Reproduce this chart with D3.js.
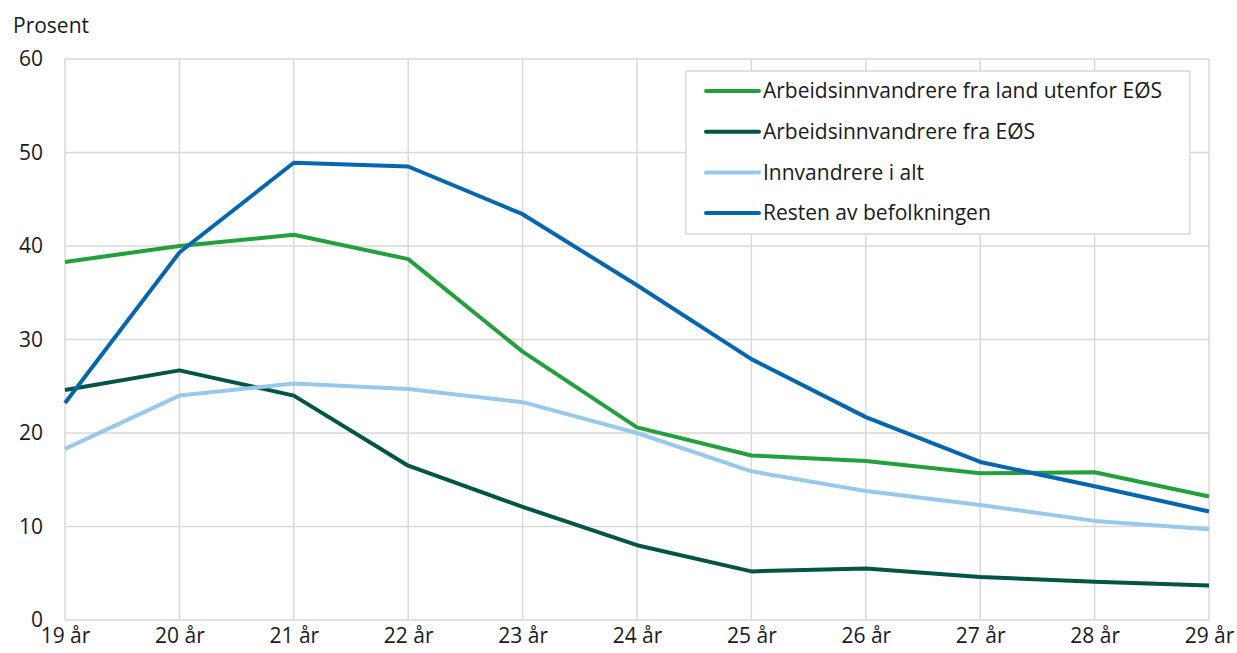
<!DOCTYPE html>
<html>
<head>
<meta charset="utf-8">
<script src="https://cdn.jsdelivr.net/npm/d3@7"></script>
<style>
  body { margin: 0; background: #fff; }
  svg text { font-family: "Open Sans", sans-serif; fill: #1a1a1a; }
</style>
</head>
<body>
<svg id="chart" width="1237" height="653"></svg>
<script>
// age categories along the x axis
let ages = ["19 år", "20 år", "21 år", "22 år", "23 år", "24 år", "25 år", "26 år", "27 år", "28 år", "29 år"];

// series values (prosent)
let utenforEOS = [38.3, 40.0, 41.2, 38.6, 28.7, 20.6, 17.6, 17.0, 15.7, 15.8, 13.2];
let fraEOS = [24.6, 26.7, 24.0, 16.5, 12.1, 8.0, 5.2, 5.5, 4.6, 4.1, 3.7];
let innvandrereIAlt = [18.3, 24.0, 25.3, 24.7, 23.3, 20.0, 15.9, 13.8, 12.3, 10.6, 9.7];
let restenAvBefolkningen = [23.2, 39.3, 48.9, 48.5, 43.4, 35.8, 27.9, 21.7, 16.9, 14.3, 11.6];

let yTicks = [0, 10, 20, 30, 40, 50, 60];

let seriesNames = ["Arbeidsinnvandrere fra land utenfor EØS", "Arbeidsinnvandrere fra EØS",
                   "Innvandrere i alt", "Resten av befolkningen"];
let seriesColors = ["#23a03c", "#005544", "#97c9ee", "#0566b0"];

let series = [
    {name: seriesNames[0], color: seriesColors[0], values: utenforEOS},
    {name: seriesNames[1], color: seriesColors[1], values: fraEOS},
    {name: seriesNames[2], color: seriesColors[2], values: innvandrereIAlt},
    {name: seriesNames[3], color: seriesColors[3], values: restenAvBefolkningen}
];

const svg = d3.select('#chart');
const plotLeft = 65, plotRight = 1209, plotTop = 59, plotBottom = 620;
const fontSize = '21px';

let x = d3.scalePoint().domain(ages).range([plotLeft, plotRight]);
let y = d3.scaleLinear().domain([0, 60]).range([plotBottom, plotTop]);

// grid
let grid = svg.append('g');
grid.selectAll('line.h')
    .data(yTicks)
    .join('line')
    .attr('class', 'h')
    .attr('x1', plotLeft).attr('x2', plotRight)
    .attr('y1', d => y(d)).attr('y2', d => y(d))
    .attr('stroke', '#d9d9d9').attr('stroke-width', 1.5);
grid.selectAll('line.v')
    .data(ages)
    .join('line')
    .attr('class', 'v')
    .attr('x1', d => x(d)).attr('x2', d => x(d))
    .attr('y1', plotTop).attr('y2', plotBottom)
    .attr('stroke', '#d9d9d9').attr('stroke-width', 1.5);

// y axis labels
let yAxis = svg.append('g')
    .attr('transform', `translate(${plotLeft},0)`)
    .call(d3.axisLeft(y).tickValues(yTicks).tickSize(0).tickPadding(22));
yAxis.select('.domain').remove();
yAxis.selectAll('text').style('font-size', fontSize).style('font-family', '"Open Sans", sans-serif').attr('fill', '#1a1a1a');

// x axis labels
let xAxis = svg.append('g')
    .attr('transform', `translate(0,${plotBottom})`)
    .call(d3.axisBottom(x).tickSize(0).tickPadding(8));
xAxis.select('.domain').remove();
xAxis.selectAll('text').style('font-size', fontSize).style('font-family', '"Open Sans", sans-serif').attr('fill', '#1a1a1a');

svg.append('text')
    .attr('x', 13).attr('y', 33)
    .style('font-size', fontSize)
    .text('Prosent');

// lines
let line = d3.line()
    .x((d, i) => x(ages[i]))
    .y(d => y(d));

svg.append('g').selectAll('path')
    .data(series)
    .join('path')
    .attr('d', d => line(d.values))
    .attr('fill', 'none')
    .attr('stroke', d => d.color)
    .attr('stroke-width', 4)
    .attr('stroke-linejoin', 'round');

// legend
let legend = svg.append('g');
legend.append('rect')
    .attr('x', 686).attr('y', 71)
    .attr('width', 504).attr('height', 163)
    .attr('fill', '#fff')
    .attr('stroke', '#d9d9d9').attr('stroke-width', 1.5);

let items = legend.selectAll('g.item')
    .data(series)
    .join('g')
    .attr('class', 'item')
    .attr('transform', (d, i) => `translate(0,${91 + i * 40.7})`);
items.append('line')
    .attr('x1', 706).attr('x2', 759)
    .attr('y1', 0).attr('y2', 0)
    .attr('stroke', d => d.color)
    .attr('stroke-width', 4)
    .attr('stroke-linecap', 'round');
items.append('text')
    .attr('x', 763).attr('y', 0)
    .attr('dy', '0.35em')
    .style('font-size', fontSize)
    .text(d => d.name);
</script>
</body>
</html>
